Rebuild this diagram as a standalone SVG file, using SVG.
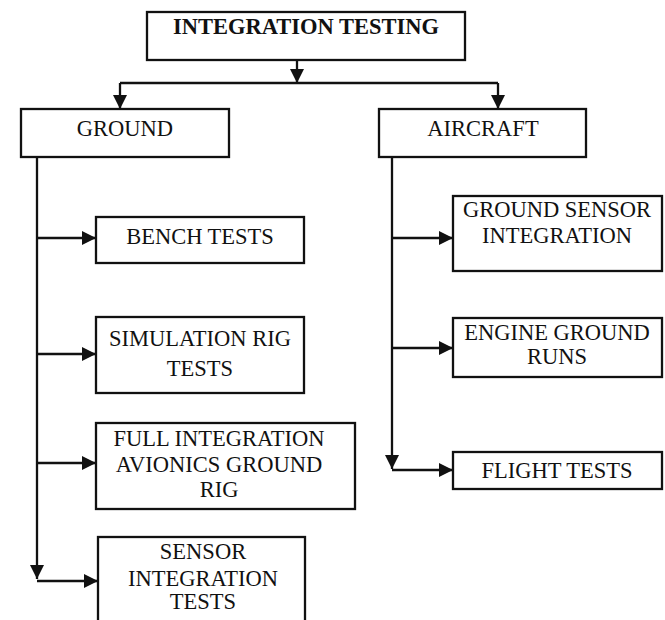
<svg xmlns="http://www.w3.org/2000/svg" width="665" height="620" viewBox="0 0 665 620">
  <style>
    .box { fill: #ffffff; stroke: #111; stroke-width: 2.3; }
    .lbl { font-family: "Liberation Serif", "Times New Roman", serif; font-size: 22.5px; fill: #111; text-anchor: middle; }
    .title { font-weight: bold; font-size: 22.5px; }
    .wire { fill: none; stroke: #111; stroke-width: 2.3; }
  </style>
  <defs>
    <marker id="arrow" markerUnits="userSpaceOnUse" markerWidth="16" markerHeight="14" refX="14" refY="7" orient="auto">
      <path d="M0,0 L14,7 L0,14 Z" fill="#111"/>
    </marker>
  </defs>
  <rect width="665" height="620" fill="#ffffff"/>

  <!-- connectors -->
  <g id="connectors">
    <line class="wire" x1="297" y1="60" x2="297" y2="83" marker-end="url(#arrow)"/>
    <line class="wire" x1="120" y1="83" x2="498" y2="83"/>
    <line class="wire" x1="120" y1="83" x2="120" y2="109" marker-end="url(#arrow)"/>
    <line class="wire" x1="498" y1="83" x2="498" y2="109" marker-end="url(#arrow)"/>

    <!-- ground trunk -->
    <line class="wire" x1="37" y1="157" x2="37" y2="579" marker-end="url(#arrow)"/>
    <line class="wire" x1="37" y1="238" x2="96" y2="238" marker-end="url(#arrow)"/>
    <line class="wire" x1="37" y1="354" x2="96" y2="354" marker-end="url(#arrow)"/>
    <line class="wire" x1="37" y1="463" x2="96" y2="463" marker-end="url(#arrow)"/>
    <line class="wire" x1="37" y1="581" x2="98" y2="581" marker-end="url(#arrow)"/>

    <!-- aircraft trunk -->
    <line class="wire" x1="392" y1="157" x2="392" y2="469" marker-end="url(#arrow)"/>
    <line class="wire" x1="392" y1="238" x2="453" y2="238" marker-end="url(#arrow)"/>
    <line class="wire" x1="392" y1="348" x2="453" y2="348" marker-end="url(#arrow)"/>
    <line class="wire" x1="392" y1="470" x2="453" y2="470" marker-end="url(#arrow)"/>
  </g>

  <g id="integration-testing">
    <rect class="box" x="147" y="12" width="318" height="48"/>
    <text class="lbl title" x="306" y="34">INTEGRATION TESTING</text>
  </g>

  <g id="ground">
    <rect class="box" x="21" y="109" width="208" height="48"/>
    <text class="lbl" x="125" y="136">GROUND</text>
  </g>

  <g id="aircraft">
    <rect class="box" x="379" y="109" width="207" height="48"/>
    <text class="lbl" x="483" y="136">AIRCRAFT</text>
  </g>

  <g id="bench-tests">
    <rect class="box" x="96" y="217" width="208" height="46"/>
    <text class="lbl" x="200" y="244">BENCH TESTS</text>
  </g>

  <g id="simulation-rig-tests">
    <rect class="box" x="96" y="317" width="208" height="76"/>
    <text class="lbl" x="200" y="346">SIMULATION RIG</text>
    <text class="lbl" x="200" y="376">TESTS</text>
  </g>

  <g id="full-integration-rig">
    <rect class="box" x="96" y="423" width="259" height="86"/>
    <text class="lbl" x="219" y="446">FULL INTEGRATION</text>
    <text class="lbl" x="219" y="472">AVIONICS GROUND</text>
    <text class="lbl" x="219" y="497">RIG</text>
  </g>

  <g id="sensor-integration-tests">
    <rect class="box" x="98" y="537" width="207" height="90"/>
    <text class="lbl" x="203" y="559">SENSOR</text>
    <text class="lbl" x="203" y="586">INTEGRATION</text>
    <text class="lbl" x="203" y="609">TESTS</text>
  </g>

  <g id="ground-sensor-integration">
    <rect class="box" x="453" y="196" width="209" height="75"/>
    <text class="lbl" x="557" y="217">GROUND SENSOR</text>
    <text class="lbl" x="557" y="243">INTEGRATION</text>
  </g>

  <g id="engine-ground-runs">
    <rect class="box" x="453" y="318" width="209" height="59"/>
    <text class="lbl" x="557" y="340">ENGINE GROUND</text>
    <text class="lbl" x="557" y="364">RUNS</text>
  </g>

  <g id="flight-tests">
    <rect class="box" x="453" y="452" width="209" height="37"/>
    <text class="lbl" x="557" y="478">FLIGHT TESTS</text>
  </g>
</svg>
